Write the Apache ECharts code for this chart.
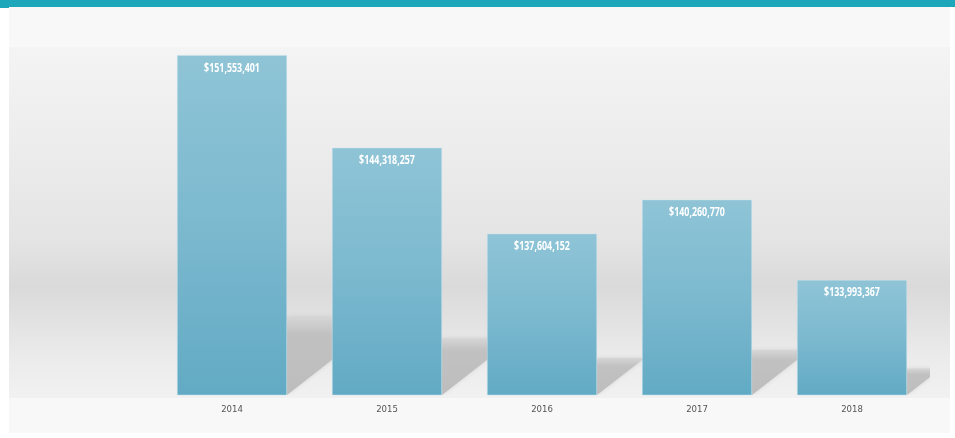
<!DOCTYPE html>
<html>
<head>
<meta charset="utf-8">
<style>
  html, body { margin: 0; padding: 0; background: #ffffff; }
  #chart { width: 955px; height: 438px; }
</style>
<script src="https://cdn.jsdelivr.net/npm/echarts@6/dist/echarts.min.js"></script>
</head>
<body>
<div id="chart"></div>
<script>
// Annual totals by year
const years = ['2014', '2015', '2016', '2017', '2018'];
const totals = [151553401, 144318257, 137604152, 140260770, 133993367];

// Value axis range (axis itself is hidden)
const axisMin = 125000000;
const axisMax = 155000000;

const BAR_WIDTH = 110;
const AXIS_FONT = '"DejaVu Sans Condensed", "Open Sans", sans-serif';
const LABEL_FONT = '"Open Sans", "DejaVu Sans Condensed", sans-serif';

const chart = echarts.init(document.getElementById('chart'), null, { renderer: 'canvas' });

function money(v) {
  return '$' + v.toLocaleString('en-US');
}

// Floor shadow cast to the lower right of each bar
function renderShadow(params, api) {
  const i = api.value(0);
  const v = api.value(1);
  const top = api.coord([i, v]);
  const base = api.coord([i, axisMin]);
  const xr = top[0] + BAR_WIDTH / 2;
  const yb = base[1];
  const h = yb - top[1];
  const s = h * 0.23;
  const slope = 0.78;
  const w = Math.min(48, s / slope);
  return {
    type: 'polygon',
    shape: {
      points: [
        [xr, yb],
        [xr, yb - s],
        [xr + w, yb - s],
        [xr + w, yb - slope * w]
      ]
    },
    style: {
      fill: {
        type: 'linear', x: 0, y: 0, x2: 0, y2: 1,
        colorStops: [
          { offset: 0, color: '#d6d6d6' },
          { offset: 0.22, color: '#c1c1c1' },
          { offset: 1, color: '#bdbdbd' }
        ]
      },
      shadowBlur: 4,
      shadowColor: 'rgba(0,0,0,0.10)'
    }
  };
}

// Narrow bold value label placed just inside the top of each bar
function renderValueLabel(params, api) {
  const i = api.value(0);
  const v = api.value(1);
  const top = api.coord([i, v]);
  return {
    type: 'text',
    x: top[0],
    y: top[1] + 13,
    scaleX: 0.74,
    style: {
      text: money(v),
      fill: '#ffffff',
      font: 'bold 12px ' + LABEL_FONT,
      align: 'center',
      verticalAlign: 'middle'
    }
  };
}

chart.setOption({
  animation: false,
  backgroundColor: '#ffffff',
  graphic: [
    // header strip
    { type: 'rect', left: 0, top: 0, shape: { width: 955, height: 7 }, style: { fill: '#1ca8ba' }, z: -10 },
    { type: 'rect', left: 0, top: 7, shape: { width: 9, height: 1 }, style: { fill: '#1ca8ba' }, z: -10 },
    // panel
    { type: 'rect', left: 9, top: 7, shape: { width: 941, height: 426 }, style: { fill: '#f8f8f8' }, z: -10 },
    // shaded plotting band
    {
      type: 'rect', left: 9, top: 47, shape: { width: 941, height: 351 },
      style: {
        fill: {
          type: 'linear', x: 0, y: 0, x2: 0, y2: 1,
          colorStops: [
            { offset: 0, color: '#f4f4f4' },
            { offset: 0.3, color: '#ececec' },
            { offset: 0.55, color: '#e4e4e4' },
            { offset: 0.68, color: '#dadada' },
            { offset: 0.76, color: '#e0e0e0' },
            { offset: 0.88, color: '#ebebeb' },
            { offset: 1, color: '#f1f1f1' }
          ]
        }
      },
      z: -9
    }
  ],
  grid: { left: 154.5, right: 25.5, top: 11, bottom: 43, containLabel: false },
  xAxis: {
    type: 'category',
    data: years,
    axisLine: { show: false },
    axisTick: { show: false },
    axisLabel: { color: '#555555', fontSize: 9.5, fontFamily: AXIS_FONT, margin: 10 }
  },
  yAxis: {
    type: 'value',
    min: axisMin,
    max: axisMax,
    show: false,
    splitLine: { show: false }
  },
  series: [
    {
      type: 'custom',
      clip: true,
      z: 1,
      data: totals.map((v, i) => [i, v]),
      renderItem: renderShadow,
      silent: true
    },
    {
      type: 'bar',
      z: 2,
      barWidth: BAR_WIDTH,
      data: totals,
      itemStyle: {
        color: {
          type: 'linear', x: 0, y: 0, x2: 0, y2: 1,
          colorStops: [
            { offset: 0, color: '#8fc4d6' },
            { offset: 0.5, color: '#7cb9cf' },
            { offset: 1, color: '#62aac4' }
          ]
        },
        borderColor: 'rgba(200,228,238,0.8)',
        borderWidth: 0.6
      }
    },
    {
      type: 'custom',
      z: 3,
      data: totals.map((v, i) => [i, v]),
      renderItem: renderValueLabel,
      silent: true
    }
  ]
});
</script>
</body>
</html>
